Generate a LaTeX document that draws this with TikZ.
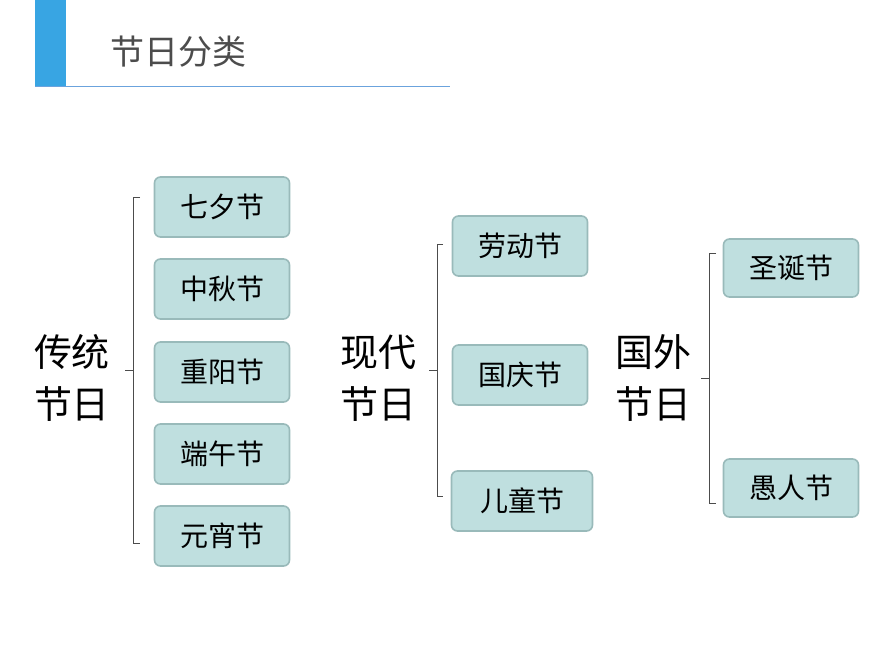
\documentclass[tikz,border=0pt]{standalone}
\usepackage{fontspec}
\newfontfamily\cjk{Noto Sans CJK SC}
\begin{document}
\begin{tikzpicture}[x=1pt,y=-1pt,
  fest/.style={draw=black!35!teal!40, line width=1.6pt, fill=teal!25!white, rounded corners=6pt, minimum width=135pt, minimum height=60pt, font=\cjk\fontsize{28}{30}\selectfont},
  grp/.style={font=\cjk\fontsize{38}{52}\selectfont, align=center, inner sep=0pt},
  br/.style={draw=black!70, line width=0.8pt}]
\useasboundingbox (0,0) rectangle (870,653);
\fill[cyan!80!blue!80] (35,0) rectangle (66,86);
\draw[cyan!60!blue!60, line width=1pt] (35,86) -- (450,86);
\node[font=\cjk\fontsize{34}{36}\selectfont, text=black!70] (title) at (178,52) {节日分类};
% group 1
\node[grp] (g1) at (72,378) {传统\\节日};
\foreach \n/\t/\y in {a/七夕节/207,b/中秋节/289,c/重阳节/372,d/端午节/454,e/元宵节/536}
  \node[fest] (\n) at (222,\y) {\t};
\coordinate (t1) at (133,370);
\draw[br] (140,197) -- (133,197) -- (133,543) -- (140,543);
\draw[br] (t1) -- (125,370);
% group 2
\node[grp] (g2) at (378,378) {现代\\节日};
\node[fest] (f) at (520,246) {劳动节};
\node[fest] (g) at (520,375) {国庆节};
\node[fest, minimum width=141pt] (h) at (522,501) {儿童节};
\draw[br] (443,244) -- (437,244) -- (437,496) -- (443,496);
\coordinate (t2) at (437,370);
\draw[br] (t2) -- (429,370);
% group 3
\node[grp] (g3) at (653,378) {国外\\节日};
\node[fest, minimum height=58pt] (i) at (791,268) {圣诞节};
\node[fest, minimum height=58pt] (j) at (791,488) {愚人节};
\draw[br] (716,253) -- (709,253) -- (709,503) -- (716,503);
\coordinate (t3) at (709,378);
\draw[br] (t3) -- (701,378);
\end{tikzpicture}
\end{document}
